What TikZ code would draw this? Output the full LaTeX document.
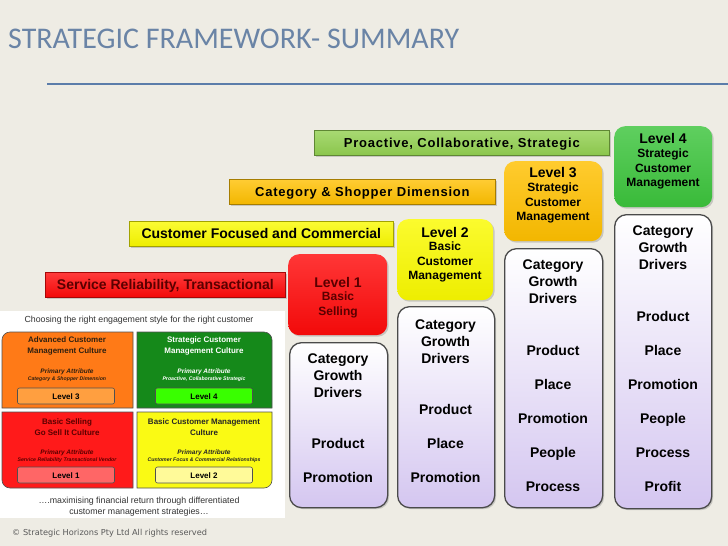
\documentclass[tikz,border=0pt]{standalone}
\usepackage{fontspec}
\setmainfont{Liberation Sans}
\newfontfamily\titlefont{Carlito}
\newfontfamily\trackfont[LetterSpace=6]{Liberation Sans}
\newfontfamily\notefont{DejaVu Sans}
\usepackage{tikz}
\usetikzlibrary{
    positioning,
    shadows
}

\definecolor{slide}{HTML}{EEECE4}
\definecolor{titleblue}{HTML}{6A84A6}
\definecolor{ruleblue}{HTML}{5B7DAA}
\definecolor{lilac}{HTML}{D4C6F0}
\definecolor{boxline}{HTML}{4A4A4A}
\definecolor{darkred}{HTML}{5A0000}
\definecolor{bgreen}{HTML}{92D050}
\definecolor{bamber}{HTML}{FFC000}
\definecolor{byellow}{HTML}{FAFA00}
\definecolor{bred}{HTML}{FF0A0A}
\definecolor{lgreen}{HTML}{3CC43C}
\definecolor{quadorange}{HTML}{FF7A17}
\definecolor{quadgreen}{HTML}{15891A}
\definecolor{quadred}{HTML}{FF1A1A}
\definecolor{quadyellow}{HTML}{FAFA14}
\definecolor{quadline}{HTML}{505050}

\tikzset{
    banner/.style={draw=#1!65!black, line width=0.7pt, top color=#1!80!white, bottom color=#1!95!black,
        anchor=north west, minimum height=25pt, inner sep=0pt,
        text height=9.5pt, text depth=0pt,
        drop shadow={shadow xshift=1.5pt, shadow yshift=-1.5pt, opacity=0.35}},
    bannertext/.style={font=\bfseries\fontsize{14}{16}\selectfont},
    tracktext/.style={font=\trackfont\bfseries\fontsize{13}{15}\selectfont},
    levelbox/.style={top color=#1!82!white, bottom color=#1!95!black, rounded corners=11pt,
        anchor=north west, minimum height=81pt, inner sep=0pt,
        drop shadow={shadow xshift=1.5pt, shadow yshift=-1.5pt, opacity=0.35}},
    levelhead/.style={font=\bfseries\fontsize{14}{16}\selectfont, text height=10pt, text depth=0pt, inner sep=0pt},
    levelsub/.style={align=center, font=\bfseries\fontsize{12}{14.5}\selectfont, inner sep=0pt},
    driverbox/.style={draw=boxline, line width=1.3pt, rounded corners=12pt,
        top color=white, bottom color=lilac, anchor=north west, minimum width=97pt, inner sep=0pt,
        drop shadow={shadow xshift=1.5pt, shadow yshift=-1.5pt, opacity=0.35}},
    heading/.style={align=center, font=\bfseries\fontsize{14}{17}\selectfont, inner sep=0pt},
    item/.style={font=\bfseries\fontsize{14}{17}\selectfont, text height=10pt, text depth=0pt, inner sep=0pt},
    quad/.style={draw=quadline, line width=0.6pt},
    quadtext/.style={align=center, font=\bfseries\fontsize{8}{11}\selectfont, inner sep=0pt},
    attr/.style={font=\bfseries\itshape\fontsize{6.5}{7.5}\selectfont, inner sep=0pt},
    attrsmall/.style={font=\bfseries\itshape\fontsize{5.2}{6}\selectfont, inner sep=0pt},
    levelbtn/.style={draw=quadline, line width=0.6pt, fill=#1, rounded corners=2pt,
        minimum width=97pt, minimum height=16pt, inner sep=0pt,
        text height=6pt, text depth=0pt, font=\bfseries\fontsize{8}{9}\selectfont},
    plain/.style={align=center, font=\fontsize{8.8}{11}\selectfont, inner sep=0pt, text=black!80},
}

\begin{document}
\begin{tikzpicture}[x=1pt, y=1pt, node distance=34pt, on grid]
    \useasboundingbox (0,0) rectangle (728,-546);
    \fill[slide] (0,0) rectangle (728,-546);

    % title
    \node[anchor=base west, inner sep=0pt, text=titleblue, font=\titlefont\fontsize{30}{31}\selectfont]
        (title) at (8,-48) {STRATEGIC FRAMEWORK- SUMMARY};
    \coordinate (rule_l) at (47,-84);
    \coordinate (rule_r) at (728,-84);
    \draw[ruleblue, line width=1.5pt] (rule_l) -- (rule_r);

    % attribute banners
    \node[banner=bgreen, minimum width=295pt, tracktext] (b_4) at (314,-130) {Proactive, Collaborative, Strategic};
    \node[banner=bamber, minimum width=266pt, tracktext] (b_3) at (229,-179) {Category \& Shopper Dimension};
    \node[banner=byellow, minimum width=264pt, bannertext] (b_2) at (129,-221) {Customer Focused and Commercial};
    \node[banner=bred, minimum width=240pt, bannertext, text=darkred] (b_1) at (45,-272) {Service Reliability, Transactional};

    % levels
    \node[levelbox=lgreen, minimum width=98pt] (l_4) at (614,-126) {};
    \node[levelbox=bamber, minimum width=98pt, minimum height=80pt] (l_3) at (504,-161) {};
    \node[levelbox=byellow, minimum width=96pt] (l_2) at (397,-219) {};
    \node[levelbox=bred, minimum width=99pt] (l_1) at (288,-254) {};

    \node[levelhead] (l_4h) at (663,-138) {Level 4};
    \node[levelsub] (l_4s) at (663,-169) {Strategic\\Customer\\Management};
    \node[levelhead] (l_3h) at (553,-172) {Level 3};
    \node[levelsub] (l_3s) at (553,-203) {Strategic\\Customer\\Management};
    \node[levelhead] (l_2h) at (445,-232) {Level 2};
    \node[levelsub] (l_2s) at (445,-262) {Basic\\Customer\\Management};
    \node[levelhead, text=darkred] (l_1h) at (338,-282) {Level 1};
    \node[levelsub, text=darkred] (l_1s) at (338,-305) {Basic\\Selling};

    % growth drivers
    \node[driverbox, minimum height=294pt] (d_4) at (614,-214) {};
    \node[driverbox, minimum height=259pt, minimum width=98pt] (d_3) at (504,-248) {};
    \node[driverbox, minimum height=201pt] (d_2) at (397,-306) {};
    \node[driverbox, minimum height=165pt, minimum width=98pt] (d_1) at (289,-342) {};

    \node[heading] (g_4) at (663,-248) {Category\\Growth\\Drivers};
    \node[heading] (g_3) at (553,-282) {Category\\Growth\\Drivers};
    \node[heading] (g_2) at (445.5,-342) {Category\\Growth\\Drivers};
    \node[heading] (g_1) at (338,-376) {Category\\Growth\\Drivers};

    \node[item] (p_41) at (663,-316) {Product};
    \node[item] (p_42) [below=of p_41] {Place};
    \node[item] (p_43) [below=of p_42] {Promotion};
    \node[item] (p_44) [below=of p_43] {People};
    \node[item] (p_45) [below=of p_44] {Process};
    \node[item] (p_46) [below=of p_45] {Profit};

    \node[item] (p_31) at (553,-350) {Product};
    \node[item] (p_32) [below=of p_31] {Place};
    \node[item] (p_33) [below=of p_32] {Promotion};
    \node[item] (p_34) [below=of p_33] {People};
    \node[item] (p_35) [below=of p_34] {Process};

    \node[item] (p_21) at (445.5,-409) {Product};
    \node[item] (p_22) [below=of p_21] {Place};
    \node[item] (p_23) [below=of p_22] {Promotion};

    \node[item] (p_11) at (338,-443) {Product};
    \node[item] (p_12) [below=of p_11] {Promotion};

    % engagement matrix
    \fill[white] (0,-311) rectangle (285,-518);
    \node[plain] (m_cap) at (139,-320) {Choosing the right engagement style for the right customer};

    \filldraw[quad, fill=quadorange] (133,-408) -- (2,-408) -- (2,-340) arc[start angle=180, end angle=90, radius=8] -- (133,-332) -- cycle;
    \filldraw[quad, fill=quadgreen] (137,-408) -- (137,-332) -- (264,-332) arc[start angle=90, end angle=0, radius=8] -- (272,-408) -- cycle;
    \filldraw[quad, fill=quadred] (2,-412) -- (133,-412) -- (133,-488) -- (10,-488) arc[start angle=270, end angle=180, radius=8] -- cycle;
    \filldraw[quad, fill=quadyellow] (137,-412) -- (272,-412) -- (272,-480) arc[start angle=0, end angle=-90, radius=8] -- (137,-488) -- cycle;

    \node[quadtext, text=black!75!brown] (q_3) at (67,-346) {Advanced Customer\\Management Culture};
    \node[attr, text=black!75!brown] (q_3a) at (67,-372) {Primary Attribute};
    \node[attrsmall, text=black!75!brown] (q_3b) at (67,-379) {Category \& Shopper Dimension};
    \node[levelbtn=orange!75!white] (q_3l) at (66,-396) {Level 3};

    \node[quadtext, text=white] (q_4) at (204,-346) {Strategic Customer\\Management Culture};
    \node[attr, text=white] (q_4a) at (204,-372) {Primary Attribute};
    \node[attrsmall, text=white] (q_4b) at (204,-379) {Proactive, Collaborative Strategic};
    \node[levelbtn=green!70!lime] (q_4l) at (204,-396) {Level 4};

    \node[quadtext, text=darkred] (q_1) at (67,-427) {Basic Selling\\Go Sell It Culture};
    \node[attr, text=darkred] (q_1a) at (67,-453) {Primary Attribute};
    \node[attrsmall, text=darkred] (q_1b) at (67,-460) {Service Reliability Transactional Vendor};
    \node[levelbtn=red!60!white] (q_1l) at (66,-475) {Level 1};

    \node[quadtext, text=black!85] (q_2) at (204,-427) {Basic Customer Management\\Culture};
    \node[attr, text=black!85] (q_2a) at (204,-453) {Primary Attribute};
    \node[attrsmall, text=black!85] (q_2b) at (204,-460) {Customer Focus \& Commercial Relationships};
    \node[levelbtn=yellow!40!white] (q_2l) at (204,-475) {Level 2};

    \node[plain] (m_foot) at (139,-507) {….maximising financial return through differentiated\\customer management strategies…};

    % footer
    \node[anchor=west, inner sep=0pt, text=black!65, font=\notefont\fontsize{8.2}{9}\selectfont]
        (copy) at (12,-533) {© Strategic Horizons Pty Ltd All rights reserved};
\end{tikzpicture}
\end{document}
